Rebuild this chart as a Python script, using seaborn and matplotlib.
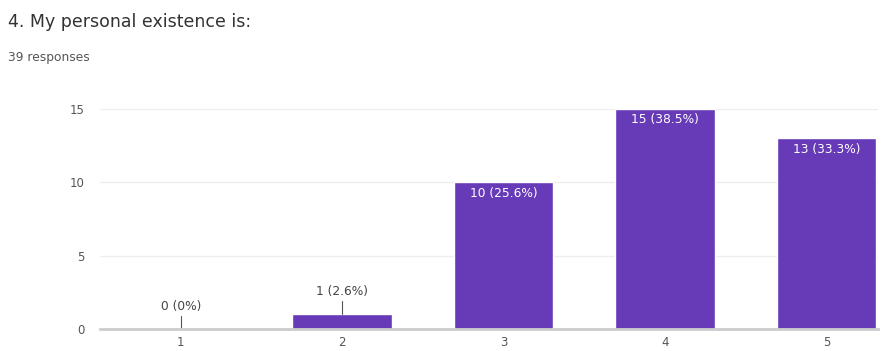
import pandas as pd
import matplotlib.pyplot as plt
import seaborn as sns

# survey data
answers = ["1", "2", "3", "4", "5"]
counts = [0, 1, 10, 15, 13]
labels = ["0 (0%)", "1 (2.6%)", "10 (25.6%)", "15 (38.5%)", "13 (33.3%)"]

df = pd.DataFrame({"answer": answers, "count": counts})

sns.set_theme(style="white")
plt.rcParams["font.family"] = ["DejaVu Sans"]

fig = plt.figure(figsize=(8.81, 3.51), dpi=100)
ax = fig.add_axes([100 / 881, 22 / 351, 778 / 881, 220 / 351])

sns.barplot(data=df, x="answer", y="count", color="#673AB7", saturation=1,
            width=0.615, ax=ax)

ax.set_xlim(-0.5, 4.32)
ax.set_ylim(0, 15)
ax.set_yticks([0, 5, 10, 15])
ax.yaxis.grid(True, color="#eeeeee", linewidth=1)
ax.set_axisbelow(True)
for s in ["top", "right", "left"]:
    ax.spines[s].set_visible(False)
ax.spines["bottom"].set_color("#cccccc")
ax.spines["bottom"].set_linewidth(2)
ax.tick_params(axis="both", length=0, labelsize=8.5, labelcolor="#555555")
ax.tick_params(axis="y", pad=11)
ax.tick_params(axis="x", pad=5)
ax.set_xlabel("")
ax.set_ylabel("")

# value labels
for i, (c, lab) in enumerate(zip(counts, labels)):
    if c < 5:
        ax.plot([i, i], [c, c + 0.9], color="#555555", linewidth=0.8)
        ax.text(i, c + 1.1, lab, ha="center", va="bottom", fontsize=8.8, color="#444444")
    else:
        ax.text(i, c - 0.3, lab, ha="center", va="top", fontsize=8.8, color="white")

fig.text(8 / 881, 1 - 22 / 351, "4. My personal existence is:", fontsize=12.5,
         color="#333333", va="center")
fig.text(8 / 881, 1 - 57 / 351, "39 responses", fontsize=8.8, color="#555555", va="center")

fig.savefig("out.png", dpi=100)
